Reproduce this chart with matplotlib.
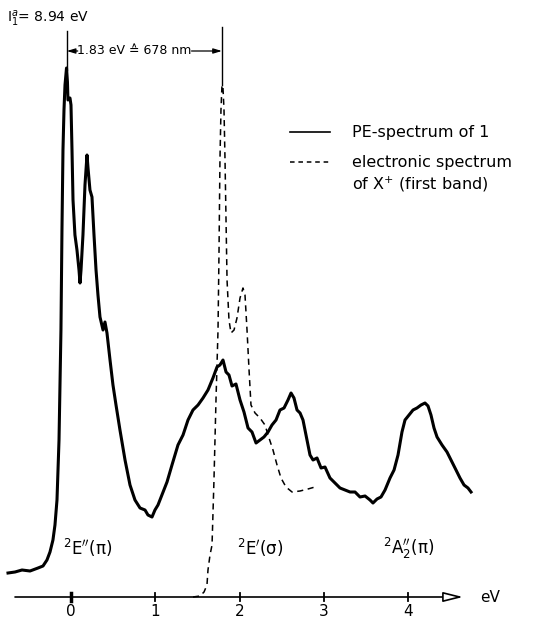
import matplotlib
matplotlib.use("Agg")
import matplotlib.pyplot as plt

# PE spectrum (solid): energy relative to first IP in eV, intensity in arbitrary units
pe_ev = [-0.747, -0.664, -0.581, -0.486, -0.391, -0.332, -0.285, -0.249, -0.214, -0.190,
         -0.166, -0.142, -0.119, -0.107, -0.095, -0.083, -0.071, -0.053, -0.042, -0.036,
         -0.012, 0.000, 0.012, 0.024, 0.047, 0.071, 0.095, 0.107, 0.119, 0.142,
         0.166, 0.190, 0.202, 0.225, 0.249, 0.273, 0.297, 0.320, 0.344, 0.380,
         0.403, 0.427, 0.463, 0.498, 0.534, 0.581, 0.641, 0.700, 0.759, 0.819,
         0.878, 0.913, 0.961, 0.996, 1.032, 1.079, 1.139, 1.198, 1.269, 1.329,
         1.388, 1.447, 1.507, 1.566, 1.625, 1.684, 1.732, 1.767, 1.803, 1.839,
         1.874, 1.910, 1.957, 2.005, 2.052, 2.100, 2.147, 2.195, 2.242, 2.289,
         2.337, 2.384, 2.432, 2.479, 2.527, 2.574, 2.610, 2.645, 2.681, 2.717,
         2.752, 2.788, 2.835, 2.871, 2.918, 2.966, 3.013, 3.072, 3.132, 3.191,
         3.250, 3.310, 3.369, 3.428, 3.488, 3.547, 3.582, 3.630, 3.677, 3.725,
         3.784, 3.832, 3.879, 3.926, 3.962, 4.009, 4.057, 4.104, 4.152, 4.199,
         4.235, 4.270, 4.306, 4.342, 4.401, 4.460, 4.520, 4.567, 4.614, 4.662,
         4.709, 4.745]
pe_int = [24, 25, 27, 26, 29, 31, 37, 45, 57, 72,
          97, 157, 267, 367, 447, 487, 512, 529, 515, 497,
          499, 492, 447, 397, 362, 347, 327, 314, 327, 362,
          412, 442, 429, 407, 400, 362, 327, 302, 280, 267,
          275, 264, 237, 212, 192, 167, 137, 112, 97, 89,
          87, 82, 80, 87, 92, 102, 115, 132, 152, 162,
          177, 187, 192, 199, 207, 219, 230, 232, 237, 225,
          222, 211, 213, 197, 185, 169, 165, 154, 157, 160,
          165, 172, 177, 187, 189, 197, 204, 199, 187, 184,
          177, 162, 142, 137, 139, 129, 130, 119, 114, 109,
          107, 105, 105, 100, 101, 97, 94, 98, 100, 107,
          119, 127, 142, 165, 177, 182, 187, 189, 192, 194,
          191, 182, 169, 160, 152, 145, 135, 127, 119, 112,
          109, 105]

# electronic absorption spectrum of X+ (dashed)
es_ev = [1.447, 1.530, 1.578, 1.613, 1.625, 1.649, 1.673, 1.696, 1.720, 1.744,
         1.756, 1.767, 1.779, 1.791, 1.803, 1.815, 1.827, 1.839, 1.851, 1.874,
         1.898, 1.934, 1.969, 2.005, 2.040, 2.064, 2.088, 2.112, 2.135, 2.183,
         2.242, 2.301, 2.349, 2.396, 2.444, 2.491, 2.550, 2.622, 2.717, 2.811,
         2.894]
es_int = [0, 1, 5, 12, 27, 42, 52, 117, 197, 267,
          347, 437, 487, 512, 509, 487, 437, 377, 317, 277,
          264, 267, 279, 299, 309, 302, 267, 227, 192, 184,
          179, 172, 159, 147, 132, 119, 110, 105, 106, 108,
          110]

ticks = [0, 1, 2, 3, 4]
states = [r"$^2$E$^{\prime\prime}$(π)", r"$^2$E$^{\prime}$(σ)", r"$^2$A$_2^{\prime\prime}$(π)"]
state_x = [-0.10, 1.97, 3.70]
ip_label = r"I$_1^a$= 8.94 eV"
gap_label = "1.83 eV ≙ 678 nm"
peak_marks = [-0.05, 1.79]

fig = plt.figure(figsize=(5.34, 6.23), dpi=100)
ax = fig.add_axes([0, 0, 1, 1])
ax.set_xlim(-0.842, 5.492)
ax.set_ylim(-26, 597)
ax.axis("off")

ax.plot(pe_ev, pe_int, color="black", lw=2.2, solid_joinstyle="round")
ax.plot(es_ev, es_int, color="black", lw=1.1, dashes=(4, 3))

# energy axis with hollow arrow
ax.annotate("", xy=(4.65, 0), xytext=(-0.664, 0),
            arrowprops=dict(arrowstyle="-|>,head_length=1.2,head_width=0.3",
                            fc="white", ec="black", lw=1.2, shrinkA=0, shrinkB=0))
for t in ticks:
    ax.plot([t, t], [-4, 4], color="black", lw=1.3 if t else 2.5)
    ax.text(t, -15, str(t), ha="center", va="center", fontsize=11)
ax.text(4.97, 0, "eV", ha="center", va="center", fontsize=11)

for s, x in zip(states, state_x):
    ax.text(x, 49, s, ha="left", va="center", fontsize=12)

# onset markers and separation
ax.plot([peak_marks[0]] * 2, [527, 566], color="black", lw=1.0)
ax.plot([peak_marks[1]] * 2, [512, 570], color="black", lw=1.0)
ax.text(-0.76, 578, ip_label, ha="left", va="center", fontsize=10)
ax.annotate("", xy=(peak_marks[0], 546), xytext=(0.08, 546),
            arrowprops=dict(arrowstyle="-|>,head_length=0.5,head_width=0.15",
                            color="black", lw=0.9, shrinkA=0, shrinkB=0))
ax.annotate("", xy=(peak_marks[1], 546), xytext=(1.43, 546),
            arrowprops=dict(arrowstyle="-|>,head_length=0.5,head_width=0.15",
                            color="black", lw=0.9, shrinkA=0, shrinkB=0))
ax.text(0.755, 546, gap_label, ha="center", va="center", fontsize=9)

# legend
ax.plot([2.60, 3.07], [465, 465], color="black", lw=1.2)
ax.text(3.33, 465, "PE-spectrum of 1", ha="left", va="center", fontsize=11.5)
ax.plot([2.60, 3.07], [435, 435], color="black", lw=1.1, dashes=(3, 2.5))
ax.text(3.33, 435, "electronic spectrum", ha="left", va="center", fontsize=11.5)
ax.text(3.33, 413, r"of X$^{+}$ (first band)", ha="left", va="center", fontsize=11.5)

fig.savefig("out.png", dpi=100)
